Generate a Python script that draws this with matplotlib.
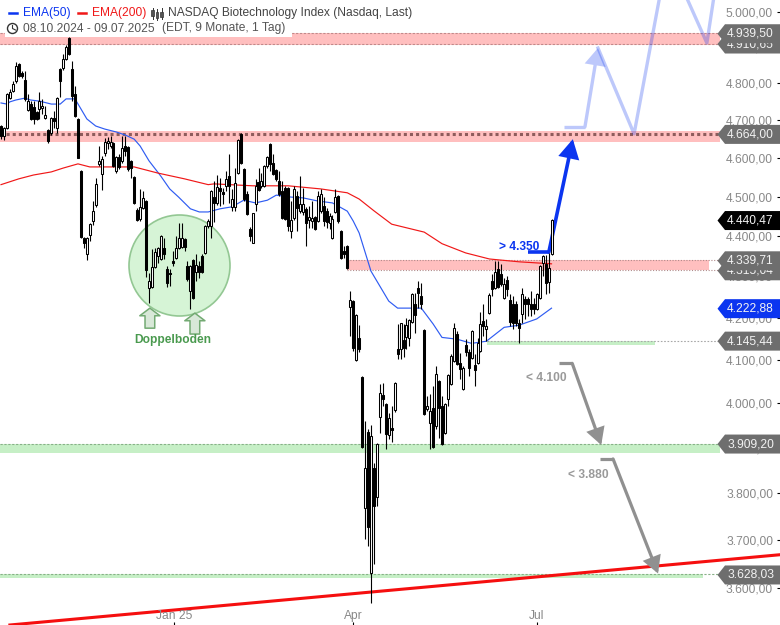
import matplotlib
matplotlib.use("Agg")
import matplotlib.pyplot as plt
from matplotlib.patches import Polygon, Rectangle, FancyArrowPatch
from matplotlib.lines import Line2D
from matplotlib.ticker import NullLocator
from matplotlib.transforms import IdentityTransform

plt.rcParams['font.family'] = ['Liberation Sans', 'DejaVu Sans']

# daily candles 08.10.2024 - 09.07.2025
opens = [4685,4659,4680,4761,4780,4807,4854,4829,4810,4728,
         4744,4736,4723,4731,4733,4707,4675,4667,4707,4680,
         4840,4843,4868,4926,4840,4772,4704,4566,4396,4356,
         4403,4438,4479,4585,4558,4614,4640,4632,4640,4566,
         4603,4593,4632,4629,4593,4551,4466,4443,4471,4489,
         4272,4274,4323,4351,4343,4371,4318,4308,4338,4346,
         4371,4373,4393,4325,4264,4341,4311,4325,4351,4358,
         4426,4426,4499,4484,4523,4512,4528,4553,4474,4474,
         4561,4664,4571,4507,4418,4383,4481,4538,4528,4528,
         4580,4637,4588,4569,4541,4515,4523,4523,4413,4446,
         4502,4464,4461,4469,4441,4438,4448,4438,4464,4476,
         4464,4433,4396,4461,4502,4413,4363,4376,4226,4240,
         4099,4151,4060,3768,3935,3631,3854,3792,3969,4019,
         3998,3928,3944,3985,4126,4126,4146,4153,4151,4190,
         4233,4271,4252,4170,3987,3955,3989,3948,4051,3994,
         3933,4010,4044,4097,4161,4092,4033,4135,4119,4104,
         4088,4092,4121,4192,4173,4211,4289,4271,4318,4306,
         4247,4291,4243,4233,4233,4187,4209,4245,4245,4233,
         4233,4221,4247,4333,4330,4286,4356]
highs = [4688,4683,4775,4785,4807,4859,4857,4834,4834,4771,
         4752,4752,4725,4777,4758,4739,4677,4709,4725,4763,
         4843,4882,4907,4929,4862,4793,4707,4569,4398,4398,
         4433,4489,4548,4632,4606,4653,4656,4659,4642,4606,
         4611,4659,4659,4632,4596,4553,4471,4520,4515,4492,
         4308,4368,4371,4373,4403,4396,4325,4318,4363,4401,
         4433,4433,4396,4338,4328,4343,4356,4338,4356,4428,
         4443,4518,4541,4556,4548,4523,4566,4611,4520,4574,
         4650,4667,4574,4515,4423,4458,4546,4574,4561,4582,
         4606,4640,4611,4571,4566,4541,4528,4525,4489,4528,
         4515,4553,4523,4474,4476,4489,4451,4515,4520,4499,
         4471,4458,4453,4520,4504,4416,4376,4378,4264,4243,
         4209,4183,4062,3960,3942,3951,3865,3910,4044,4046,
         4001,3978,3994,4049,4185,4187,4185,4199,4197,4259,
         4259,4289,4284,4173,4017,4021,4040,4085,4053,4017,
         4001,4067,4114,4187,4168,4116,4085,4149,4126,4170,
         4114,4151,4214,4233,4197,4259,4306,4338,4338,4330,
         4296,4301,4257,4252,4240,4197,4271,4252,4250,4264,
         4247,4259,4328,4353,4353,4358,4443]
lows = [4651,4648,4677,4758,4777,4802,4818,4815,4752,4725,
        4701,4691,4701,4704,4717,4704,4640,4661,4680,4667,
        4763,4837,4865,4879,4752,4709,4601,4396,4371,4341,
        4388,4428,4474,4580,4518,4606,4624,4627,4577,4561,
        4571,4588,4606,4566,4548,4481,4438,4438,4469,4298,
        4235,4272,4320,4333,4341,4343,4274,4276,4325,4343,
        4368,4371,4363,4289,4221,4245,4289,4296,4308,4356,
        4421,4396,4436,4479,4476,4481,4515,4484,4464,4464,
        4558,4585,4489,4453,4388,4383,4464,4515,4523,4525,
        4574,4566,4556,4541,4502,4443,4441,4413,4396,4441,
        4413,4458,4453,4376,4421,4421,4416,4436,4458,4426,
        4421,4418,4393,4458,4433,4343,4346,4318,4156,4121,
        4097,4119,3899,3702,3688,3569,3650,3772,3933,3994,
        3897,3919,3913,3980,4102,4102,4107,4126,4132,4187,
        4163,4223,4221,3973,3982,3897,3899,3942,3922,3906,
        3931,3994,4042,4095,4088,4056,4030,4109,4062,4102,
        4040,4090,4119,4156,4144,4209,4252,4269,4271,4276,
        4245,4252,4180,4173,4180,4139,4187,4197,4204,4204,
        4209,4219,4245,4301,4257,4259,4353]
closes = [4659,4680,4772,4777,4799,4848,4821,4821,4758,4752,
          4704,4704,4704,4752,4739,4715,4645,4707,4699,4761,
          4807,4868,4901,4882,4766,4712,4601,4398,4383,4396,
          4430,4464,4533,4593,4598,4642,4645,4642,4580,4603,
          4577,4627,4619,4571,4574,4484,4441,4474,4497,4315,
          4289,4323,4361,4371,4401,4356,4284,4306,4333,4371,
          4396,4396,4373,4294,4325,4247,4328,4311,4311,4426,
          4438,4515,4484,4525,4515,4507,4546,4528,4494,4535,
          4648,4588,4494,4456,4401,4458,4528,4518,4541,4580,
          4603,4585,4558,4546,4507,4446,4443,4426,4441,4520,
          4471,4481,4481,4433,4448,4446,4418,4502,4507,4438,
          4436,4451,4443,4499,4438,4346,4356,4320,4243,4128,
          4207,4126,3901,3854,3728,3926,3772,3908,4023,4010,
          3930,3967,3939,4046,4114,4187,4128,4183,4194,4257,
          4206,4259,4233,3975,3994,3982,3901,4067,3989,3908,
          3998,4065,4109,4175,4090,4079,4081,4119,4081,4168,
          4076,4139,4185,4180,4180,4255,4269,4311,4274,4281,
          4281,4269,4190,4187,4187,4175,4257,4233,4233,4221,
          4221,4257,4325,4351,4284,4320,4440.47]

ema50_x = [0,2,3,5,8,10,13,17,20,22,25,27,29,32,35,39,42,45,47,50,54,57,60,64,67,70,
           74,78,82,86,90,93,98,102,107,112,117,119,121,125,131,134,142,146,149,154,
           159,164,170,175,181,186]
ema50 = [4747,4744,4750,4755,4760,4755,4752,4744,4744,4758,4758,4731,4704,4685,4677,
         4669,4661,4650,4632,4593,4553,4520,4499,4469,4461,4461,4469,4474,4491,4484,
         4491,4504,4499,4497,4489,4484,4463,4438,4408,4313,4240,4223,4223,4185,4153,
         4149,4139,4144,4177,4182,4197,4222.88]
ema200_x = [0,6,11,17,21,26,30,38,45,53,62,70,72,85,97,108,117,121,126,132,143,149,157,165,175,186]
ema200 = [4531,4546,4556,4564,4574,4585,4577,4577,4577,4561,4546,4531,4533,4528,4528,
          4520,4510,4494,4464,4430,4410,4381,4358,4343,4336,4331]

y_ticks = [5000,4900,4800,4700,4600,4500,4400,4300,4200,4100,4000,3900,3800,3700,3600]
y_labels = ['5.000,00','4.900,00','4.800,00','4.700,00','4.600,00','4.500,00','4.400,00',
            '4.300,00','4.200,00','4.100,00','4.000,00','3.900,00','3.800,00','3.700,00','3.600,00']
x_ticks = [58.5,119,181]
x_labels = ['Jan 25','Apr','Jul']

trend_x = [3,263]
trend_y = [3525,3669]
zig_x = [190.2,197.3,201.7,213.9,225.2,238.5,242.2]
zig_y = [4683,4683,4898,4664,5165,4912,5118]

# right hand price tags: value, text, colour
tags = [(4910.65,'4.910,65','#6e6e6e'),(4939.50,'4.939,50','#6e6e6e'),(4664.00,'4.664,00','#6e6e6e'),
        (4440.47,'4.440,47','#000000'),(4315.04,'4.315,04','#6e6e6e'),(4339.71,'4.339,71','#6e6e6e'),
        (4222.88,'4.222,88','#0b35f0'),(4145.44,'4.145,44','#6e6e6e'),(3909.20,'3.909,20','#6e6e6e'),
        (3628.03,'3.628,03','#6e6e6e')]

W, H = 780, 625
fig = plt.figure(figsize=(7.8, 6.25), dpi=100)
ax = fig.add_axes([0, 0, 1, 1])
ax.set_yscale('log')
ax.set_xlim(-0.34, 263.2)
ax.set_ylim(3525, 5034)
for s in ax.spines.values():
    s.set_visible(False)
ax.set_axisbelow(False)

PINK = '#ffbfbf'
GREEN = '#c6efc6'
RIGHT = 242.9

# resistance and support bands
ax.fill_between([-0.34, RIGHT], 4907, 4941, color=PINK, lw=0, zorder=1)
ax.plot([-0.34, RIGHT], [4939.5, 4939.5], color='#c08a8a', lw=0.8, ls=(0, (2, 1.5)), zorder=1.2)
ax.plot([-0.34, RIGHT], [4910.65, 4910.65], color='#c08a8a', lw=0.8, ls=(0, (2, 1.5)), zorder=1.2)
ax.fill_between([-0.34, RIGHT], 4643, 4672, color=PINK, lw=0, zorder=1)
ax.plot([-0.34, RIGHT], [4664, 4664], color='#8e5c5c', lw=2.2, ls=(0, (1, 1)), zorder=1.2)
ax.fill_between([116.9, 239.2], 4315, 4339.7, color=PINK, lw=0, zorder=1)
ax.plot([116.9, 242.2], [4339.7, 4339.7], color='#b08a8a', lw=0.8, ls=(0, (1, 1.5)), zorder=1.2)
ax.plot([116.9, 242.2], [4315, 4315], color='#b08a8a', lw=0.8, ls=(0, (1, 1.5)), zorder=1.2)
ax.fill_between([164.2, 221], 4135, 4145.4, color=GREEN, lw=0, zorder=1)
ax.plot([164.2, 242.2], [4145.4, 4145.4], color='#a8a8a8', lw=0.8, ls=(0, (1.5, 1.5)), zorder=1.2)
ax.fill_between([-0.34, RIGHT], 3889, 3909.2, color=GREEN, lw=0, zorder=1)
ax.plot([-0.34, RIGHT], [3909.2, 3909.2], color='#88b088', lw=0.8, ls=(0, (2, 1.5)), zorder=1.2)
ax.fill_between([-0.34, 237.2], 3621, 3630, color=GREEN, lw=0, zorder=1)
ax.plot([-0.34, 242.2], [3628, 3628], color='#88b088', lw=0.8, ls=(0, (2, 1.5)), zorder=1.2)

# double bottom circle
ax.scatter([60.2], [4328], s=5288, marker='o', facecolor=(0.55, 0.88, 0.55, 0.35),
           edgecolor='#93c793', linewidth=1.2, zorder=1.5)
for ax_x, tip, base in [(50.3, 4223, 4175), (65.5, 4211, 4161)]:
    ax.annotate('', xy=(ax_x, tip), xytext=(ax_x, base), zorder=1.6,
                arrowprops=dict(width=7, headwidth=14.5, headlength=5.5, shrink=0,
                                facecolor='#d8e8d8', edgecolor='#73aa73', linewidth=1.1))
ax.text(58, 4146, 'Doppelboden', color='#4a9a4f', fontsize=8.64, fontweight='bold',
        ha='center', va='center', zorder=6)

# moving averages
ax.plot(ema50_x, ema50, color='#2f5cf2', lw=0.85, zorder=2)
ax.plot(ema200_x, ema200, color='#f01818', lw=0.85, zorder=2)
ax.plot(trend_x, trend_y, color='#f50f0f', lw=2.2, zorder=2.2)


def arrow(x0, y0, x1, y1, col, lw, hl, hw):
    a = FancyArrowPatch((x0, y0), (x1, y1), shrinkA=0, shrinkB=0, mutation_scale=1,
                        arrowstyle='-|>,head_length=%s,head_width=%s' % (hl, hw),
                        color=col, lw=lw, zorder=2.6, joinstyle='miter')
    ax.add_patch(a)


# forecast paths
ax.plot([178, 185.1], [4360, 4360], color='#0b35f0', lw=2.6, zorder=2.6, solid_capstyle='butt')
arrow(185.1, 4360, 193.2, 4650, '#0b35f0', 2.6, 10, 5.5)
ax.plot(zig_x[:2], zig_y[:2], color='#bdc8fb', lw=2.4, zorder=2.6, solid_capstyle='butt')
arrow(zig_x[1], zig_y[1], zig_x[2], zig_y[2], '#bdc8fb', 2.4, 9, 5.5)
ax.plot(zig_x[2:], zig_y[2:], color='#0b35f0', lw=2.4, alpha=0.27, zorder=2.6)

ax.plot([188.6, 193], [4094, 4094], color='#909090', lw=2.3, zorder=2.6, solid_capstyle='butt')
arrow(193, 4092, 202.8, 3906, '#909090', 2.3, 9, 5)
ax.plot([202.4, 206.8], [3875, 3875], color='#909090', lw=2.3, zorder=2.6, solid_capstyle='butt')
arrow(206.8, 3875, 222, 3630, '#909090', 2.3, 9, 5)

ax.text(175.2, 4373, '> 4.350', color='#0b35f0', fontsize=8.64, fontweight='bold', ha='center', va='center', zorder=6)
ax.text(184.2, 4058, '< 4.100', color='#9a9a9a', fontsize=8.64, fontweight='bold', ha='center', va='center', zorder=6)
ax.text(198.4, 3839, '< 3.880', color='#9a9a9a', fontsize=8.64, fontweight='bold', ha='center', va='center', zorder=6)

# candles
xs = list(range(len(closes)))
ax.vlines(xs, lows, highs, color='black', lw=0.8, zorder=3)
for i in xs:
    top = max(opens[i], closes[i])
    bot = min(opens[i], closes[i])
    fc = 'white' if closes[i] >= opens[i] else 'black'
    ax.bar(i, top - bot, bottom=bot, width=0.68, facecolor=fc, edgecolor='black', linewidth=0.75, zorder=3.2)

# axes
ax.yaxis.tick_right()
ax.set_yticks(y_ticks)
ax.set_yticklabels(y_labels, ha='right')
ax.yaxis.set_minor_locator(NullLocator())
ax.tick_params(axis='y', direction='in', length=2.4, width=0.8, color='black', pad=-5,
               labelcolor='#888888', labelsize=8.64)
ax.set_xticks(x_ticks)
ax.set_xticklabels(x_labels)
ax.tick_params(axis='x', direction='in', length=2.4, width=0.8, color='black', pad=-11,
               labelcolor='#888888', labelsize=8.64)

# price tags, in pixels so they keep their shape; later ones cover earlier ones
fig.canvas.draw()
for n, (val, txt, col) in enumerate(tags):
    yc = ax.transData.transform((0, val))[1] - 0.5
    verts = [(717.5, yc), (725, yc + 9.5), (W, yc + 9.5), (W, yc - 9.5), (725, yc - 9.5)]
    ax.add_patch(Polygon(verts, closed=True, facecolor=col, edgecolor='none',
                         transform=IdentityTransform(), zorder=5 + n * 0.02, clip_on=False))
    ax.text(727, yc, txt, color='#f2f2f2', fontsize=8.64, ha='left', va='center',
            transform=IdentityTransform(), zorder=5.01 + n * 0.02)


# header
def fx(x):
    return x / W


def fy(y):
    return 1 - y / H


ft = fig.transFigure
fig.add_artist(Rectangle((fx(5), fy(36.5)), fx(287), 36.5 / H, transform=ft, fc='white', ec='none', zorder=6))
fig.add_artist(Line2D([fx(9), fx(17)], [fy(13), fy(13)], color='#0b35f0', lw=1.8, zorder=7))
fig.add_artist(Line2D([fx(78), fx(86)], [fy(13), fy(13)], color='#f01818', lw=1.8, zorder=7))
fig.text(fx(23), fy(13), 'EMA(50)', color='#0b35f0', fontsize=8.64, va='center', zorder=7)
fig.text(fx(92), fy(13), 'EMA(200)', color='#f01818', fontsize=8.64, va='center', zorder=7)
fig.text(fx(168), fy(13), 'NASDAQ Biotechnology Index (Nasdaq, Last)', color='#444444', fontsize=8.64, va='center', zorder=7)
fig.text(fx(23), fy(28.5), '08.10.2024 - 09.07.2025', color='#555555', fontsize=8.64, va='center', zorder=7)
fig.text(fx(162), fy(28.5), '(EDT, 9 Monate, 1 Tag)', color='#555555', fontsize=8.64, va='center', zorder=7)
# candle icon
for ix, t0, t1, b0, b1 in [(152.5, 8, 19, 10, 16), (157, 9, 20, 12, 18), (161.5, 8, 19, 12, 17)]:
    fig.add_artist(Line2D([fx(ix), fx(ix)], [fy(t0), fy(t1)], color='#333333', lw=0.7, zorder=7))
    fig.add_artist(Rectangle((fx(ix - 1.2), fy(b1)), 2.4 / W, (b1 - b0) / H, transform=ft,
                             fc='#555555', ec='#333333', lw=0.5, zorder=7))
# clock icon
fig.add_artist(plt.Circle((12.5, H - 28.5), 5, transform=IdentityTransform(), fc='white', ec='#333333', lw=1.0, zorder=7))
fig.add_artist(Line2D([12.5, 12.5, 15.5], [H - 25.5, H - 28.5, H - 30], transform=IdentityTransform(), color='#333333', lw=0.8, zorder=7))

fig.savefig('out.png', dpi=100)
